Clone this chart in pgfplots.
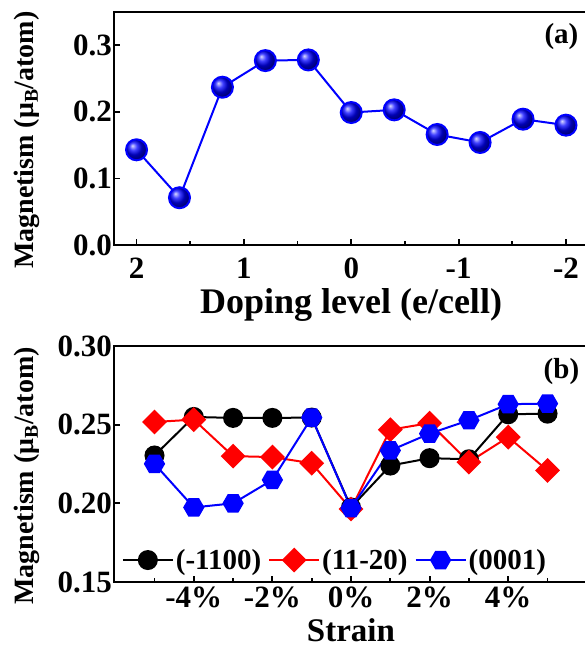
\documentclass[border=0pt]{standalone}
\usepackage{fontspec}
\setmainfont{Liberation Serif}
\usepackage{pgfplots}
\pgfplotsset{compat=1.18}

% flat-top hexagon mark for the (0001) series
\pgfdeclareplotmark{hexagon*}{%
  \pgfpathmoveto{\pgfpointpolar{0}{\pgfplotmarksize}}%
  \pgfpathlineto{\pgfpointpolar{60}{\pgfplotmarksize}}%
  \pgfpathlineto{\pgfpointpolar{120}{\pgfplotmarksize}}%
  \pgfpathlineto{\pgfpointpolar{180}{\pgfplotmarksize}}%
  \pgfpathlineto{\pgfpointpolar{240}{\pgfplotmarksize}}%
  \pgfpathlineto{\pgfpointpolar{300}{\pgfplotmarksize}}%
  \pgfpathclose
  \pgfusepathqfillstroke}

\newcommand{\ticksz}{\bfseries\fontsize{31}{33}\selectfont}
\newcommand{\labsz}{\bfseries\fontsize{36}{38}\selectfont}
\newcommand{\ylabsz}{\bfseries\fontsize{28}{30}\selectfont}

\pgfplotsset{
  panel/.style={
    scale only axis, width=474pt,
    axis line style={line width=2.5pt},
    every tick/.style={black,line width=1.8pt},
    major tick length=6pt, minor tick length=4pt,
    tick align=inside, tick pos=left,
    tick label style={font=\ticksz, inner sep=2pt},
    every axis y label/.style={at={(axis description cs:-0.1835,0.45)},rotate=90,anchor=center,font=\ylabsz},
    ylabel={Magnetism (μ\textsubscript{B}/atom)},
  }
}

\begin{document}
\begin{tikzpicture}
\useasboundingbox (0pt,0pt) rectangle (585pt,649pt);

% (a) doping
\begin{axis}[panel,
  at={(114pt,404pt)}, anchor=south west, height=233pt,
  x dir=reverse, xmin=-2.205, xmax=2.21, ymin=0, ymax=0.35,
  xtick={2,1,0,-1,-2}, xticklabels={2,1,0,-1,-2},
  minor xtick={1.5,0.5,-0.5,-1.5},
  ytick={0,0.1,0.2,0.3}, yticklabels={0.0,0.1,0.2,0.3},
  xticklabel style={yshift=-11pt},
  xlabel={Doping level (e/cell)},
  every axis x label/.style={at={(axis description cs:0.5,-0.257)},anchor=center,inner sep=0pt,font=\labsz},
]
\addplot[color=blue, line width=2pt, mark=ball, mark size=10.5pt, mark options={ball color=blue}]
  coordinates{(2,0.143)(1.6,0.071)(1.2,0.237)(0.8,0.277)(0.4,0.278)(0,0.199)
  (-0.4,0.203)(-0.8,0.166)(-1.2,0.154)(-1.6,0.189)(-2,0.180)};
\node[font=\bfseries\fontsize{29}{31}\selectfont] at (rel axis cs:0.944,0.893) {(a)};
\end{axis}

% (b) strain
\begin{axis}[panel,
  at={(114pt,67pt)}, anchor=south west, height=236pt,
  xmin=-6.03, xmax=6.03, ymin=0.15, ymax=0.30,
  xtick={-4,-2,0,2,4}, xticklabels={-4\%,-2\%,0\%,2\%,4\%},
  minor xtick={-5,-3,-1,1,3,5},
  ytick={0.15,0.2,0.25,0.3}, yticklabels={0.15,0.20,0.25,0.30},
  xticklabel style={yshift=-3pt},
  xlabel={Strain},
  every axis x label/.style={at={(axis description cs:0.5,-0.204)},anchor=center,inner sep=0pt,
    font=\bfseries\fontsize{33}{35}\selectfont},
  legend columns=3,
  legend style={at={(rel axis cs:0.466,0.093)}, anchor=center, draw=none, fill=none,
    font=\bfseries\fontsize{29}{31}\selectfont, inner sep=0pt,
    /tikz/every even column/.append style={column sep=5pt}},
  legend image code/.code={\draw[mark repeat=2,mark phase=2,#1] plot coordinates {(0pt,0pt) (25pt,0pt) (50pt,0pt)};},
]
\addplot[color=black, line width=2pt, mark=*, mark size=9pt]
  coordinates{(-5,0.2304)(-4,0.2549)(-3,0.2543)(-2,0.2543)(-1,0.2545)(0,0.1974)
  (1,0.2240)(2,0.2287)(3,0.2280)(4,0.2566)(5,0.2570)};
\addlegendentry{(-1100)}
\addplot[color=red, line width=2pt, mark=square*, mark size=7.8pt, mark options={rotate=45}]
  coordinates{(-5,0.2517)(-4,0.2532)(-3,0.2300)(-2,0.2294)(-1,0.2255)(0,0.1964)
  (1,0.2468)(2,0.2510)(3,0.2262)(4,0.2421)(5,0.2209)};
\addlegendentry{(11-20)}
\addplot[color=blue, line width=2pt, mark=hexagon*, mark size=9.5pt]
  coordinates{(-5,0.2251)(-4,0.1974)(-3,0.2000)(-2,0.2149)(-1,0.2545)(0,0.1970)
  (1,0.2336)(2,0.2443)(3,0.2528)(4,0.2630)(5,0.2634)};
\addlegendentry{(0001)}
\node[font=\bfseries\fontsize{29}{31}\selectfont] at (rel axis cs:0.944,0.89) {(b)};
\end{axis}
\end{tikzpicture}
\end{document}
